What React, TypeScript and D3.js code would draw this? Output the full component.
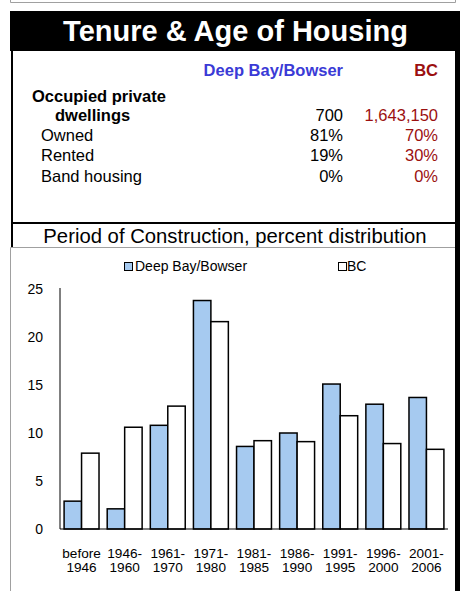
import React from 'react';
import * as d3 from 'd3';

// table rows
const tableLabels = ['Owned', 'Rented', 'Band housing'];
const localPct = ['81%', '19%', '0%'];
const bcPct = ['70%', '30%', '0%'];
const localDwellings = '700';
const bcDwellings = '1,643,150';

// bar chart
const periods = [
  ['before', '1946'],
  ['1946-', '1960'],
  ['1961-', '1970'],
  ['1971-', '1980'],
  ['1981-', '1985'],
  ['1986-', '1990'],
  ['1991-', '1995'],
  ['1996-', '2000'],
  ['2001-', '2006'],
];
const seriesNames = ['Deep Bay/Bowser', 'BC'];
const localValues = [2.9, 2.1, 10.8, 23.8, 8.6, 10.0, 15.1, 13.0, 13.7];
const bcValues = [7.9, 10.6, 12.8, 21.6, 9.2, 9.1, 11.8, 8.9, 8.3];
const yTicks = [0, 5, 10, 15, 20, 25];

const FONT = 'Liberation Sans, Arial, sans-serif';
const BLUE = '#a6caf0';
const RED = '#9b1010';

export default function App() {
  const width = 460;
  const height = 591;

  const plotLeft = 60;
  const plotRight = 448;
  const plotBottom = 529;
  const plotTop = 289;

  const x0 = d3.scaleBand<number>()
    .domain(d3.range(periods.length))
    .range([plotLeft, plotRight])
    .paddingInner(0.19)
    .paddingOuter(0.095);
  const x1 = d3.scaleBand<number>()
    .domain([0, 1])
    .range([0, x0.bandwidth()]);
  const y = d3.scaleLinear().domain([0, 25]).range([plotBottom, plotTop]);

  const series = [localValues, bcValues];
  const fills = [BLUE, '#ffffff'];

  return (
    <svg
      width={width}
      height={height}
      style={{ position: 'absolute', left: 0, top: 0, display: 'block' }}
      fontFamily={FONT}
    >
      <rect x={0} y={0} width={width} height={height} fill="#fff" />

      {/* box above */}
      <path d="M10.5,0 V2.5 H455.5 V0" fill="none" stroke="#a0a0a0" strokeWidth={1} />

      {/* header */}
      <rect x={10} y={11} width={450} height={40} fill="#000" />
      <text x={235.5} y={41} textAnchor="middle" fill="#fff" fontSize={29} fontWeight="bold">
        Tenure &amp; Age of Housing
      </text>

      {/* table frame */}
      <rect x={11} y={51} width={2} height={197} fill="#000" />
      <rect x={11} y={222} width={445} height={2} fill="#000" />
      <rect x={455} y={51} width={5} height={540} fill="#000" />

      {/* table text */}
      <g fontSize={16.5}>
        <text x={343} y={76} textAnchor="end" fill="#3a3ad6" fontWeight="bold">Deep Bay/Bowser</text>
        <text x={438} y={76} textAnchor="end" fill={RED} fontWeight="bold">BC</text>
        <text x={32} y={101.5} fontWeight="bold">Occupied private</text>
        <text x={55} y={121} fontWeight="bold">dwellings</text>
        <text x={343} y={121} textAnchor="end">{localDwellings}</text>
        <text x={438} y={121} textAnchor="end" fill={RED}>{bcDwellings}</text>
        {tableLabels.map((lab, i) => {
          const by = [141, 161, 182][i];
          return (
            <g key={lab}>
              <text x={41} y={by}>{lab}</text>
              <text x={343} y={by} textAnchor="end">{localPct[i]}</text>
              <text x={438} y={by} textAnchor="end" fill={RED}>{bcPct[i]}</text>
            </g>
          );
        })}
      </g>

      {/* subtitle */}
      <text x={235} y={243} textAnchor="middle" fontSize={20.3}>
        Period of Construction, percent distribution
      </text>

      {/* chart frame */}
      <path d="M10.5,591 V247.5 H455" fill="none" stroke="#a0a0a0" strokeWidth={1} />

      {/* legend */}
      <g fontSize={14}>
        <rect x={124.5} y={262.5} width={8} height={8} fill={BLUE} stroke="#000" strokeWidth={1} />
        <text x={135} y={271}>{seriesNames[0]}</text>
        <rect x={338.5} y={262.5} width={8} height={8} fill="#fff" stroke="#000" strokeWidth={1} />
        <text x={347} y={271}>{seriesNames[1]}</text>
      </g>

      {/* y axis labels */}
      <g fontSize={14}>
        {yTicks.map(t => (
          <text key={t} x={43} y={y(t) + 5} textAnchor="end">{t}</text>
        ))}
      </g>

      {/* bars */}
      {periods.map((p, i) => (
        <g key={i} transform={`translate(${x0(i)},0)`}>
          {series.map((vals, s) => (
            <rect
              key={s}
              x={x1(s)}
              y={y(vals[i])}
              width={x1.bandwidth()}
              height={y(0) - y(vals[i])}
              fill={fills[s]}
              stroke="#000"
              strokeWidth={1.5}
            />
          ))}
        </g>
      ))}

      {/* axes */}
      <line x1={plotLeft} x2={plotLeft} y1={plotTop - 1} y2={plotBottom} stroke="#000" strokeWidth={1} />
      <line x1={plotLeft} x2={plotRight} y1={plotBottom} y2={plotBottom} stroke="#000" strokeWidth={1.2} />

      {/* x labels, two lines each */}
      <g fontSize={13.6} textAnchor="middle">
        {periods.map((p, i) => {
          const cx = (x0(i) as number) + x0.bandwidth() / 2;
          return (
            <text key={i} x={cx} y={558}>
              <tspan x={cx}>{p[0]}</tspan>
              <tspan x={cx} dy={14}>{p[1]}</tspan>
            </text>
          );
        })}
      </g>
    </svg>
  );
}
